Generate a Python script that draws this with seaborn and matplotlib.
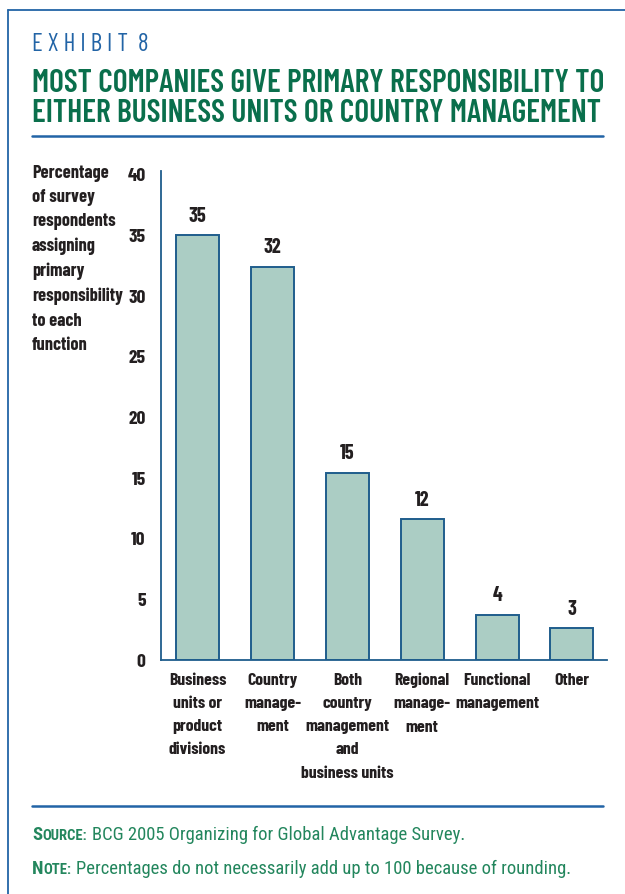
import matplotlib
matplotlib.use("Agg")
import matplotlib.pyplot as plt
import seaborn as sns
import pandas as pd
from matplotlib.lines import Line2D
from matplotlib import font_manager as fm

# ---- data ----
categories = [
    "Business\nunits or\nproduct\ndivisions",
    "Country\nmanage-\nment",
    "Both\ncountry\nmanagement\nand\nbusiness units",
    "Regional\nmanage-\nment",
    "Functional\nmanagement",
    "Other",
]
values = [35, 32.4, 15.4, 11.6, 3.7, 2.6]
value_labels = ["35", "32", "15", "12", "4", "3"]
yticks = [0, 5, 10, 15, 20, 25, 30, 35, 40]
ylabel_text = "Percentage\nof survey\nrespondents\nassigning\nprimary\nresponsibility\nto each\nfunction"
exhibit = "E X H I B I T  8"
title = "MOST COMPANIES GIVE PRIMARY RESPONSIBILITY TO\nEITHER BUSINESS UNITS OR COUNTRY MANAGEMENT"
source_text = "BCG 2005 Organizing for Global Advantage Survey."
note_text = "Percentages do not necessarily add up to 100 because of rounding."

installed = {f.name for f in fm.fontManager.ttflist}
def pick(cands):
    for c in cands:
        if c in installed:
            return c
    return "DejaVu Sans"

MAIN = pick(["Barlow Condensed", "Fira Sans Condensed", "Roboto Condensed",
             "Archivo Narrow", "Roboto"])
NOTEF = pick(["Roboto Condensed", "Fira Sans Condensed", "Barlow Condensed",
              "Roboto"])

sns.set_theme(style="white")
plt.rcParams["font.family"] = [MAIN, "DejaVu Sans"]

BLUE = "#2264a6"
GREEN = "#0a6f4c"
GREEN2 = "#23865d"
DARK = "#231f20"
FILL = "#abcdc4"
EDGE = "#1f5d8c"

df = pd.DataFrame({"cat": categories, "val": values})

fig = plt.figure(figsize=(6.25, 8.94), dpi=100)
ax = fig.add_axes([0.2576, 0.2617, 0.9712 - 0.2576, 0.8087 - 0.2617])

sns.barplot(data=df, x="cat", y="val", ax=ax, color=FILL, saturation=1,
            width=0.575, edgecolor=EDGE, linewidth=1.4)
ax.set_ylim(0, 40.3)
ax.set_xlim(-0.489, 5.468)
ax.set_yticks(yticks)
ax.set_yticklabels([str(t) for t in yticks], fontsize=14, fontweight="bold",
                   color=DARK)
ax.tick_params(axis="y", length=0, pad=11)
ax.tick_params(axis="x", length=0, pad=9)
ax.set_xlabel("")
ax.set_ylabel("")
for s in ["top", "right"]:
    ax.spines[s].set_visible(False)
for s in ["left", "bottom"]:
    ax.spines[s].set_color(EDGE)
    ax.spines[s].set_linewidth(1.3)

ax.bar_label(ax.containers[0], labels=value_labels, padding=7, fontsize=14.5,
             fontweight="bold", color=DARK)

fig.canvas.draw()
renderer = fig.canvas.get_renderer()
W = fig.bbox.width

def spacing_for(prop, step_px):
    _, h, d = renderer.get_text_width_height_descent("lp", prop, ismath=False)
    return (step_px - d) / (h - d)

def fit(t, target_px):
    bb = t.get_window_extent(renderer)
    t.set_fontsize(t.get_fontsize() * target_px / bb.width)

# x tick labels
for lab in ax.get_xticklabels():
    lab.set_fontsize(12.8)
    lab.set_fontweight("bold")
    lab.set_color(DARK)
    lab.set_linespacing(spacing_for(lab.get_fontproperties(), 23.3))

# y-axis description
t_y = fig.text(32 / 625, 1 - 165 / 894, ylabel_text, ha="left", va="top",
               fontsize=13.2, fontweight="bold", color=DARK)
t_y.set_linespacing(spacing_for(t_y.get_fontproperties(), 24.2))

# header
t_ex = fig.text(32 / 625, 1 - 51 / 894, exhibit, ha="left", va="baseline",
                fontsize=18, color=BLUE, fontweight="normal")
fit(t_ex, 117)
t_ti = fig.text(32 / 625, 1 - 122 / 894, title, ha="left", va="baseline",
                fontsize=20, fontweight="semibold", color=GREEN)
fit(t_ti, 571)
t_ti.set_linespacing(spacing_for(t_ti.get_fontproperties(), 30))

# frame and rules
fig.add_artist(Line2D([8 / 625, 1.0], [1 - 10 / 894, 1 - 10 / 894],
                      transform=fig.transFigure, color=BLUE, lw=1.3))
fig.add_artist(Line2D([8 / 625, 8 / 625], [1 - 10 / 894, 0.0],
                      transform=fig.transFigure, color=BLUE, lw=1.3))
for yy in [136, 806]:
    fig.add_artist(Line2D([32 / 625, 603 / 625], [1 - yy / 894, 1 - yy / 894],
                          transform=fig.transFigure, color=BLUE, lw=1.8))

# footnotes with small-caps labels
def small_caps_line(y_px, first, rest, body, size):
    x = 32 / 625
    y = 1 - y_px / 894
    kw = dict(color=GREEN2, ha="left", va="baseline", family=[NOTEF, "DejaVu Sans"])
    t1 = fig.text(x, y, first, fontsize=size, fontweight="bold", **kw)
    bb = t1.get_window_extent(renderer)
    t2 = fig.text(bb.x1 / W, y, rest, fontsize=size * 0.78, fontweight="bold", **kw)
    bb2 = t2.get_window_extent(renderer)
    t3 = fig.text(bb2.x1 / W + 5 / 625, y, body, fontsize=size, **kw)
    return [t1, t2, t3]

probe = small_caps_line(874, "N", "OTE:", note_text, 12)
end = probe[2].get_window_extent(renderer).x1
for p in probe:
    p.remove()
size = 12 * (572 - 32) / (end - 32)
small_caps_line(840, "S", "OURCE:", source_text, size)
small_caps_line(874, "N", "OTE:", note_text, size)

fig.savefig("out.png", dpi=100)
